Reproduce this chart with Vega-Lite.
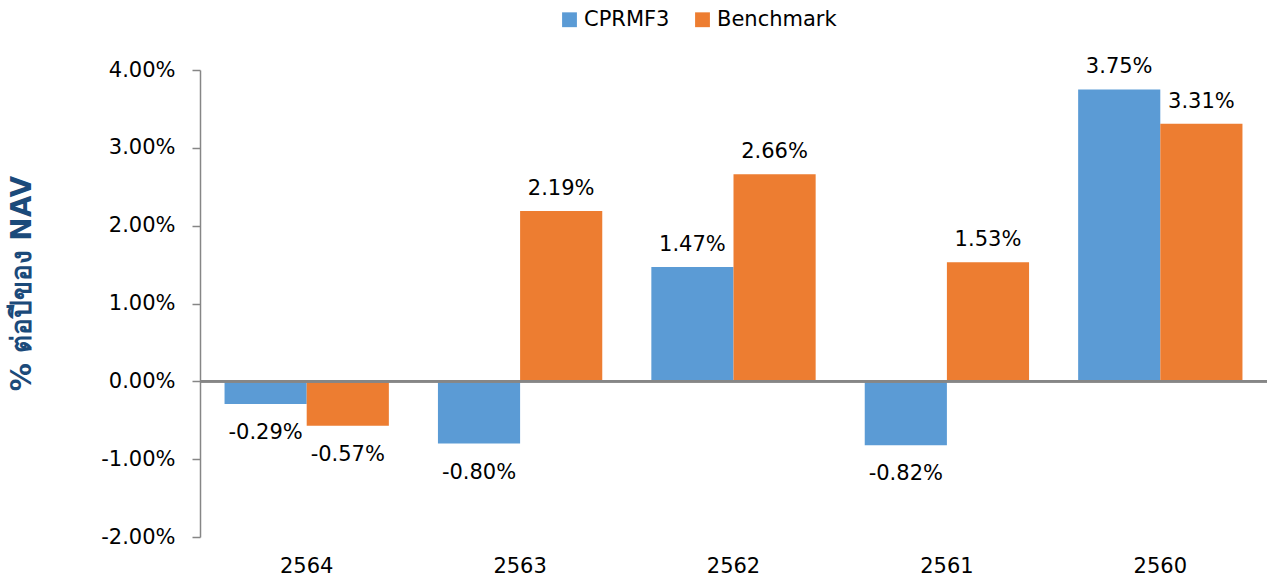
{
  "$schema": "https://vega.github.io/schema/vega-lite/v6.json",
  "autosize": "none",
  "width": 1067,
  "height": 467,
  "padding": {"left": 200, "top": 70, "right": 0, "bottom": 43},
  "background": "white",
  "config": {
    "view": {"stroke": null},
    "font": "DejaVu Sans"
  },
  "data": {
    "values": [
      {"year": "2564", "series": "CPRMF3", "value": -0.29},
      {"year": "2564", "series": "Benchmark", "value": -0.57},
      {"year": "2563", "series": "CPRMF3", "value": -0.80},
      {"year": "2563", "series": "Benchmark", "value": 2.19},
      {"year": "2562", "series": "CPRMF3", "value": 1.47},
      {"year": "2562", "series": "Benchmark", "value": 2.66},
      {"year": "2561", "series": "CPRMF3", "value": -0.82},
      {"year": "2561", "series": "Benchmark", "value": 1.53},
      {"year": "2560", "series": "CPRMF3", "value": 3.75},
      {"year": "2560", "series": "Benchmark", "value": 3.31}
    ]
  },
  "transform": [{"calculate": "replace(format(datum.value, '.2f'), '\u2212', '-') + '%'", "as": "label"}],
  "encoding": {
    "x": {
      "field": "year", "type": "nominal",
      "sort": ["2564", "2563", "2562", "2561", "2560"],
      "scale": {"paddingInner": 0.23, "paddingOuter": 0.115},
      "axis": {"title": null, "domain": false, "ticks": false, "labelAngle": 0, "labelPadding": 18, "labelFontSize": 21, "labelColor": "#000000", "labelFont": "DejaVu Sans"}
    },
    "xOffset": {"field": "series", "type": "nominal", "sort": ["CPRMF3", "Benchmark"], "scale": {"paddingInner": 0, "paddingOuter": 0}}
  },
  "layer": [
    {
      "mark": {"type": "bar"},
      "encoding": {
        "y": {
          "field": "value", "type": "quantitative",
          "scale": {"domain": [-2, 4], "nice": false, "zero": false},
          "axis": {
            "values": [-2, -1, 0, 1, 2, 3, 4],
            "labelExpr": "replace(format(datum.value, '.2f'), '\u2212', '-') + '%'",
            "grid": false,
            "domainColor": "#868686", "domainWidth": 1.5,
            "tickColor": "#868686", "tickSize": 8, "tickWidth": 1.5,
            "labelPadding": 17, "labelFontSize": 21, "labelColor": "#000000", "labelFont": "DejaVu Sans",
            "title": "% ต่อปีของ NAV",
            "titleFontSize": 28, "titleFontWeight": "bold", "titleColor": "#1B4A7A",
            "titleX": -178, "titleY": 213, "titleAngle": -90, "titleAlign": "center", "titleBaseline": "middle"
          }
        },
        "color": {
          "field": "series", "type": "nominal",
          "scale": {"domain": ["CPRMF3", "Benchmark"], "range": ["#5B9BD5", "#ED7D31"]},
          "legend": {
            "title": null, "orient": "none", "direction": "horizontal",
            "legendX": 359, "legendY": -61,
            "symbolType": "square", "symbolSize": 220, "symbolOpacity": 1,
            "labelFontSize": 21, "labelColor": "#000000", "labelFont": "DejaVu Sans",
            "columnPadding": 22, "labelOffset": 4
          }
        }
      }
    },
    {
      "mark": {"type": "rule", "color": "#868686", "strokeWidth": 2},
      "encoding": {"y": {"datum": 0}, "x": null, "xOffset": null}
    },
    {
      "transform": [{"filter": "datum.value >= 0"}],
      "mark": {"type": "text", "baseline": "bottom", "dy": -12, "fontSize": 21, "color": "#000000", "font": "DejaVu Sans"},
      "encoding": {"y": {"field": "value", "type": "quantitative"}, "text": {"field": "label"}}
    },
    {
      "transform": [{"filter": "datum.value < 0"}],
      "mark": {"type": "text", "baseline": "top", "dy": 18, "fontSize": 21, "color": "#000000", "font": "DejaVu Sans"},
      "encoding": {"y": {"field": "value", "type": "quantitative"}, "text": {"field": "label"}}
    }
  ]
}
